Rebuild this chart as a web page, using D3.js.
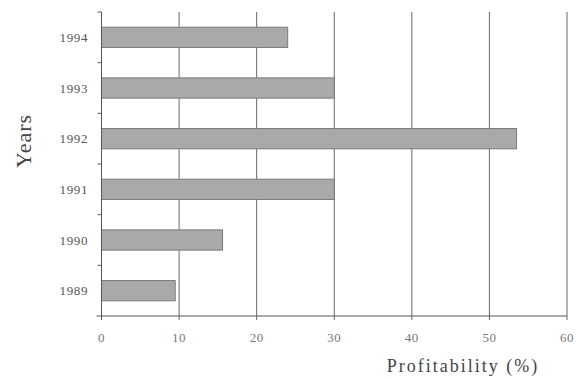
<!DOCTYPE html>
<html><head><meta charset="utf-8">
<script src="https://cdn.jsdelivr.net/npm/d3@7"></script>
<style>body{margin:0;background:#fff}</style>
</head><body>
<svg id="c" width="578" height="379"></svg>
<script>
const years = ["1994","1993","1992","1991","1990","1989"];
const profitability = [24, 30, 53.5, 30, 15.6, 9.5];
const xTicks = [0, 10, 20, 30, 40, 50, 60];
const xTickLabels = ["0","10","20","30","40","50","60"];

const FONT = "'Liberation Serif', 'Times New Roman', serif";
const svg = d3.select("#c");
const L = 101.5, R = 567, T = 12, B = 316;
const x = d3.scaleLinear().domain([0, 60]).range([L, R]);
const y = d3.scaleBand().domain(years).range([T, B]).paddingInner(0.6).paddingOuter(0.3);
const yStep = d3.scaleBand().domain(years).range([T, B]);

// gridlines
svg.append("g").selectAll("line").data(xTicks.slice(1)).join("line")
  .attr("x1", d => x(d)).attr("x2", d => x(d))
  .attr("y1", T).attr("y2", B + 4)
  .attr("stroke", "#666").attr("stroke-width", 1);

// bars
svg.append("g").selectAll("rect").data(years).join("rect")
  .attr("x", x(0)).attr("y", d => y(d))
  .attr("width", (d, i) => x(profitability[i]) - x(0))
  .attr("height", y.bandwidth())
  .attr("fill", "#a9a9a9").attr("stroke", "#7a7a7a").attr("stroke-width", 1);

// y axis
svg.append("line").attr("x1", L).attr("x2", L).attr("y1", T).attr("y2", B).attr("stroke", "#555");
svg.append("g").selectAll("line").data(years).join("line")
  .attr("x1", L - 4).attr("x2", L)
  .attr("y1", d => yStep(d)).attr("y2", d => yStep(d))
  .attr("stroke", "#555");
svg.append("g").selectAll("text").data(years).join("text")
  .attr("x", 88).attr("y", d => y(d) + y.bandwidth() / 2 + 4.5)
  .attr("text-anchor", "end")
  .attr("font-family", FONT).attr("font-size", 13)
  .attr("letter-spacing", 0.6)
  .attr("fill", "#555").text(d => d);

// x axis
svg.append("line").attr("x1", L - 5).attr("x2", R).attr("y1", B).attr("y2", B).attr("stroke", "#555");
svg.append("line").attr("x1", L).attr("x2", L).attr("y1", B).attr("y2", B + 4).attr("stroke", "#555");
svg.append("g").selectAll("text").data(xTicks).join("text")
  .attr("x", d => x(d)).attr("y", 342)
  .attr("text-anchor", "middle")
  .attr("font-family", FONT).attr("font-size", 13)
  .attr("letter-spacing", 0.5)
  .attr("fill", "#777").text((d, i) => xTickLabels[i]);

// axis titles
svg.append("text").attr("x", 463).attr("y", 372)
  .attr("text-anchor", "middle")
  .attr("font-family", FONT).attr("font-size", 18)
  .attr("letter-spacing", 2).attr("fill", "#444").text("Profitability (%)");
svg.append("text").attr("transform", "translate(31,141) rotate(-90)")
  .attr("text-anchor", "middle")
  .attr("font-family", FONT).attr("font-size", 22)
  .attr("letter-spacing", 1).attr("fill", "#444").text("Years");
</script>
</body></html>
